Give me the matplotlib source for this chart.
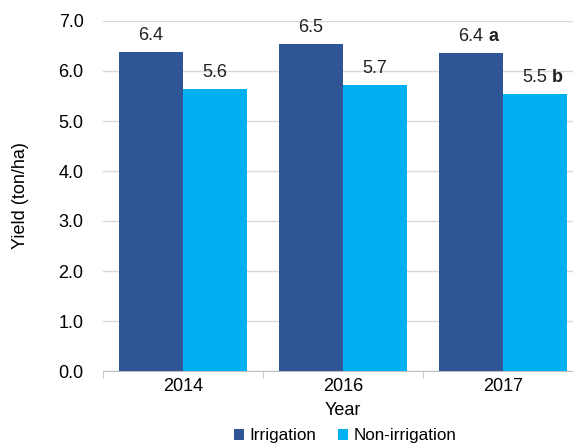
import matplotlib
matplotlib.use("Agg")
import matplotlib.pyplot as plt
import numpy as np

years = ["2014", "2016", "2017"]
irrigation = [6.38, 6.54, 6.36]
non_irrigation = [5.64, 5.71, 5.54]
irr_letters = ["", "", "a"]
non_letters = ["", "", "b"]

plt.rcParams['font.family'] = ['Liberation Sans', 'DejaVu Sans']
plt.rcParams['font.size'] = 13

fig = plt.figure(figsize=(5.73, 4.46), dpi=100)
ax = fig.add_axes([103/573, 75/446, 480/573, 350/446])

x = np.arange(len(years))
w = 0.4
b1 = ax.bar(x - w/2, irrigation, w, color='#2F5597', label='Irrigation', zorder=3)
b2 = ax.bar(x + w/2, non_irrigation, w, color='#00B0F0', label='Non-irrigation', zorder=3)

for bars, vals, letters in [(b1, irrigation, irr_letters), (b2, non_irrigation, non_letters)]:
    for bar, v, let in zip(bars, vals, letters):
        t = ax.annotate("%.1f" % v, (bar.get_x() + bar.get_width()/2, v),
                        xytext=(0, 6), textcoords='offset points',
                        ha='center', va='bottom', color='#202020')
        if let:
            ax.annotate(" " + let, xy=(1, 0), xycoords=t, ha='left', va='bottom',
                        fontweight='bold', color='#202020')

ax.set_ylim(0, 7)
ax.set_xlim(-0.5, 2.5)
ax.set_yticks(np.arange(0, 7.1, 1.0))
ax.set_yticklabels(["%.1f" % v for v in np.arange(0, 7.1, 1.0)])
ax.set_xticks(x)
ax.set_xticklabels(years)
ax.set_xticks([-0.5, 0.5, 1.5, 2.5], minor=True)
ax.tick_params(axis='x', which='major', length=0, pad=5)
ax.tick_params(axis='x', which='minor', length=5, color='#BFBFBF')
ax.tick_params(axis='y', length=0, pad=14)
ax.yaxis.grid(True, color='#D9D9D9', linewidth=1, zorder=0)
for s in ['top', 'right', 'left']:
    ax.spines[s].set_visible(False)
ax.spines['bottom'].set_color('#BFBFBF')

ax.set_ylabel("Yield (ton/ha)", labelpad=21)
ax.set_xlabel("Year", labelpad=5)
fig.legend(loc='lower center', bbox_to_anchor=(345/573, -0.028), ncol=2, frameon=False,
           fontsize=12.3, handlelength=0.6, handleheight=0.6, handletextpad=0.3,
           columnspacing=1.3)

fig.savefig("out.png", dpi=100)
